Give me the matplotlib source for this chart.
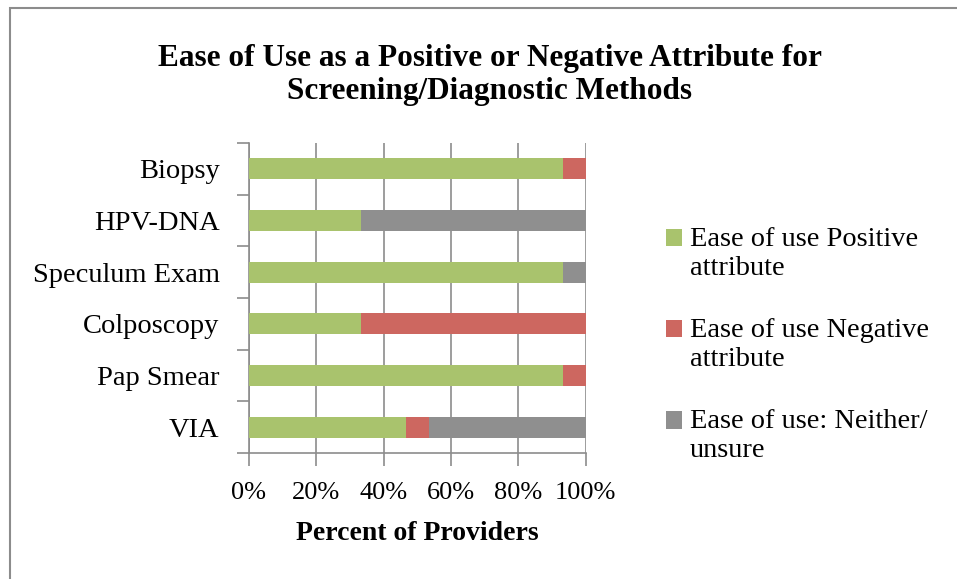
import numpy as np
import matplotlib.pyplot as plt
from matplotlib.patches import Rectangle
from matplotlib.legend_handler import HandlerPatch

# данные (снизу вверх)
methods = ["VIA", "Pap Smear", "Colposcopy", "Speculum Exam", "HPV-DNA", "Biopsy"]
positive = [46.7, 93.3, 33.3, 93.3, 33.3, 93.3]
negative = [6.7, 6.7, 66.7, 0.0, 0.0, 6.7]
neither = [46.6, 0.0, 0.0, 6.7, 66.7, 0.0]
series_labels = ["Ease of use Positive\nattribute",
                 "Ease of use Negative\nattribute",
                 "Ease of use: Neither/\nunsure"]
colors = ["#a9c36d", "#cd6760", "#8f8f8f"]
xticks = [0, 20, 40, 60, 80, 100]

plt.rcParams['font.family'] = ['Liberation Serif', 'DejaVu Serif']


# квадратик легенды на уровне первой строки подписи
def top_square(legend, orig_handle, xdescent, ydescent, width, height, fontsize):
    return Rectangle((-xdescent, -ydescent + 11.5), width, height)


fig = plt.figure(figsize=(9.57, 5.79), dpi=100)
ax = fig.add_axes([0.260, 0.2176, 0.352, 0.5354])

# рамка вокруг графика
fig.patches.append(Rectangle((9.5 / 957, -0.1), 2.0, 1.1 - 8.5 / 579,
                             transform=fig.transFigure, fill=False,
                             edgecolor="#8c8c8c", linewidth=1.5))

y = np.arange(len(methods))
left = np.zeros(len(methods))
bars = []
for vals, lab, col in zip([positive, negative, neither], series_labels, colors):
    b = ax.barh(y, vals, left=left, height=0.41, color=col, zorder=3)
    bars.append(b.patches[0])
    left += np.array(vals)

ax.set_xlim(0, 100)
ax.set_ylim(-0.5, len(methods) - 0.5)
ax.set_xticks(xticks)
ax.set_xticklabels([f"{t}%" for t in xticks], fontsize=19)
ax.set_yticks(y)
ax.set_yticklabels(methods, fontsize=20.5)
ax.set_yticks(np.arange(-0.5, len(methods), 1.0), minor=True)
ax.tick_params(axis='y', which='major', length=0, pad=21)
ax.tick_params(axis='y', which='minor', length=9, width=1.2, color="#8c8c8c")
ax.tick_params(axis='x', length=9, width=1.2, color="#8c8c8c", pad=12)
ax.grid(axis='x', color="#8c8c8c", linewidth=1.2, zorder=0)
for s in ["top", "right"]:
    ax.spines[s].set_visible(False)
for s in ["left", "bottom"]:
    ax.spines[s].set_color("#8c8c8c")
    ax.spines[s].set_linewidth(1.2)

ax.set_xlabel("Percent of Providers", fontsize=20, fontweight='bold', labelpad=12)

fig.text(0.512, 0.870, "Ease of Use as a Positive or Negative Attribute for\nScreening/Diagnostic Methods",
         ha='center', va='center', fontsize=22.5, fontweight='bold', linespacing=1.17)

ax.legend(bars, series_labels, loc='center left', bbox_to_anchor=(0.669, 0.404),
          bbox_transform=fig.transFigure, frameon=False, fontsize=20.4,
          handlelength=0.57, handleheight=0.57, handletextpad=0.28,
          labelspacing=1.32,
          handler_map={Rectangle: HandlerPatch(patch_func=top_square)})

fig.savefig("out.png", dpi=100, facecolor="white")
